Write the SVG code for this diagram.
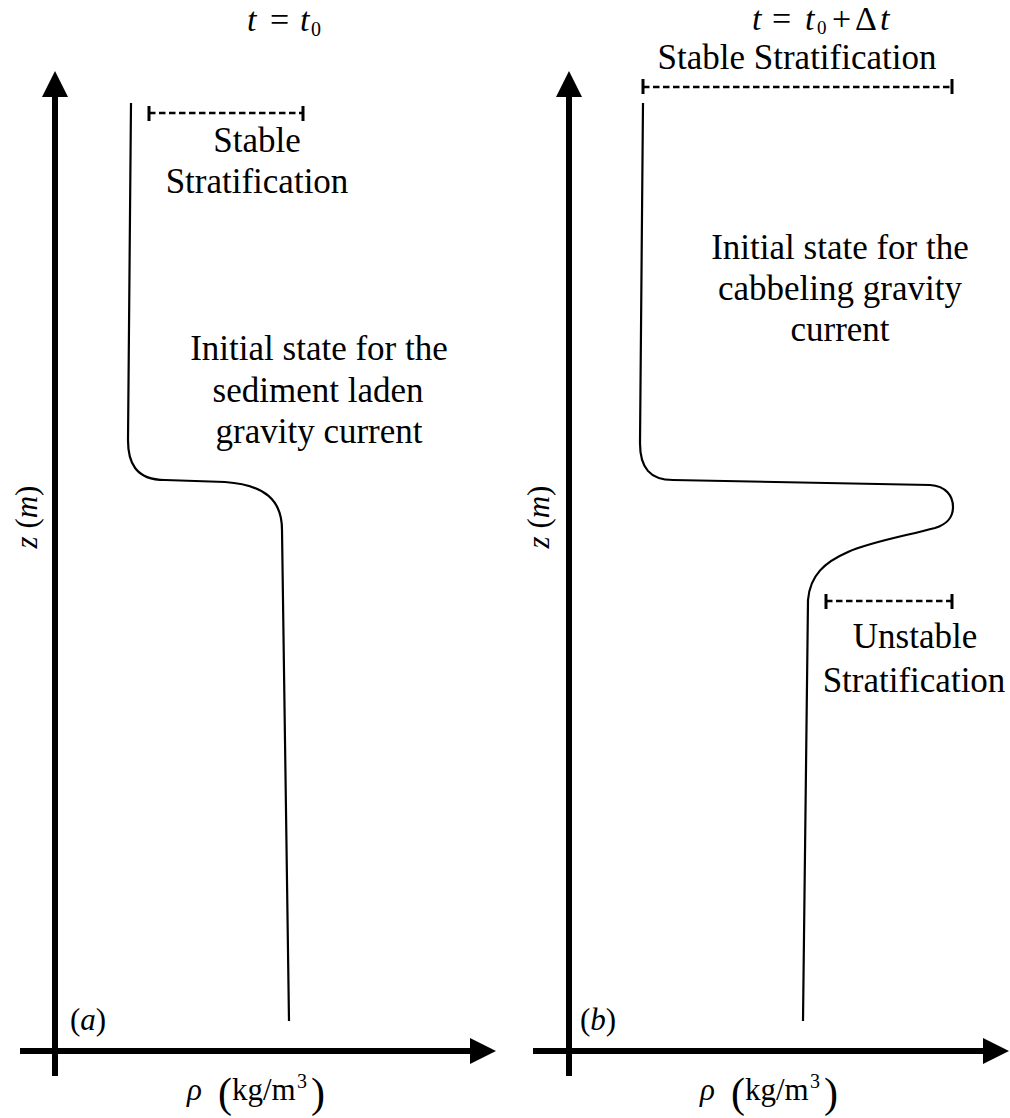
<svg xmlns="http://www.w3.org/2000/svg" width="1010" height="1118" viewBox="0 0 1010 1118">
<style>
text{font-family:"Liberation Serif",serif;fill:#000}
.lbl{font-size:35px;text-anchor:middle}
.it{font-style:italic}
.axis{stroke:#000;stroke-width:6;fill:none}
.curve{stroke:#000;stroke-width:2.2;fill:none;stroke-linejoin:round}
.dash{stroke:#000;stroke-width:2.4;stroke-dasharray:6.5,3.5;fill:none}
.tick{stroke:#000;stroke-width:3;fill:none}
</style>
<rect width="1010" height="1118" fill="#fff"/>

<g id="panel-a">
  <g id="axes-a">
    <line class="axis" x1="55" y1="1076" x2="55" y2="94"/>
    <polygon points="55,71 42,97 68,97" fill="#000"/>
    <line class="axis" x1="20" y1="1051" x2="472" y2="1051"/>
    <polygon points="496,1051 470,1038 470,1064" fill="#000"/>
  </g>
  <path id="profile-a" class="curve" d="M131,103 L128,440 C128,462 135,480 165,480 L225,482 C265,485 282,500 282,530 L289,1021"/>
  <g id="bar-a">
    <line class="dash" x1="149" y1="113" x2="303" y2="113"/>
    <line class="tick" x1="149" y1="106" x2="149" y2="121"/>
    <line class="tick" x1="303" y1="106" x2="303" y2="121"/>
  </g>
  <text x="247" y="31" font-size="34" class="it">t</text>
  <text x="270" y="31" font-size="34">=</text>
  <text x="300" y="31" font-size="34" class="it">t</text>
  <text x="311" y="36" font-size="20">0</text>
  <text class="lbl" x="257" y="152">Stable</text>
  <text class="lbl" x="257" y="193">Stratification</text>
  <text class="lbl" x="319" y="360">Initial state for the</text>
  <text class="lbl" x="318" y="402">sediment laden</text>
  <text class="lbl" x="319" y="443">gravity current</text>
  <text transform="translate(37,517) rotate(-90)" font-size="31" text-anchor="middle"><tspan class="it">z</tspan> (<tspan class="it">m</tspan>)</text>
  <text x="70" y="1030" font-size="31">(<tspan class="it">a</tspan>)</text>
  <text x="187" y="1100" font-size="31" class="it">ρ</text>
  <text x="218" y="1107" font-size="42">(</text>
  <text x="232" y="1100" font-size="31">kg/m</text>
  <text x="297" y="1088" font-size="20">3</text>
  <text x="311" y="1107" font-size="42">)</text>
</g>

<g id="panel-b">
  <g id="axes-b">
    <line class="axis" x1="569" y1="1076" x2="569" y2="94"/>
    <polygon points="569,71 556,97 582,97" fill="#000"/>
    <line class="axis" x1="533" y1="1051" x2="985" y2="1051"/>
    <polygon points="1009,1051 983,1038 983,1064" fill="#000"/>
  </g>
  <path id="profile-b" class="curve" d="M643,103 L640,443 C640,468 650,480 673,480 L930,485 C946,486 953,496 953,507 C953,518 947,524 935,528 C905,536 870,542 848,552 C825,562 810,575 808,600 L803,1021"/>
  <g id="bar-b-top">
    <line class="dash" x1="643" y1="87" x2="952" y2="87"/>
    <line class="tick" x1="643" y1="79" x2="643" y2="94"/>
    <line class="tick" x1="952" y1="79" x2="952" y2="94"/>
  </g>
  <g id="bar-b-bottom">
    <line class="dash" x1="826" y1="601" x2="952" y2="601"/>
    <line class="tick" x1="826" y1="594" x2="826" y2="609"/>
    <line class="tick" x1="952" y1="594" x2="952" y2="609"/>
  </g>
  <text x="752" y="30" font-size="34" class="it">t</text>
  <text x="772" y="30" font-size="34">=</text>
  <text x="805" y="30" font-size="34" class="it">t</text>
  <text x="817" y="33.5" font-size="19">0</text>
  <text x="832" y="30" font-size="34">+</text>
  <text x="855" y="30" font-size="34">Δ</text>
  <text x="880" y="30" font-size="34" class="it">t</text>
  <text class="lbl" x="797" y="69">Stable Stratification</text>
  <text class="lbl" x="840" y="259">Initial state for the</text>
  <text class="lbl" x="840" y="300">cabbeling gravity</text>
  <text class="lbl" x="840" y="341">current</text>
  <text class="lbl" x="915" y="648">Unstable</text>
  <text class="lbl" x="914" y="692">Stratification</text>
  <text transform="translate(549,517) rotate(-90)" font-size="31" text-anchor="middle"><tspan class="it">z</tspan> (<tspan class="it">m</tspan>)</text>
  <text x="580" y="1030" font-size="31">(<tspan class="it">b</tspan>)</text>
  <text x="700" y="1100" font-size="31" class="it">ρ</text>
  <text x="731" y="1107" font-size="42">(</text>
  <text x="745" y="1100" font-size="31">kg/m</text>
  <text x="810" y="1088" font-size="20">3</text>
  <text x="824" y="1107" font-size="42">)</text>
</g>
</svg>
